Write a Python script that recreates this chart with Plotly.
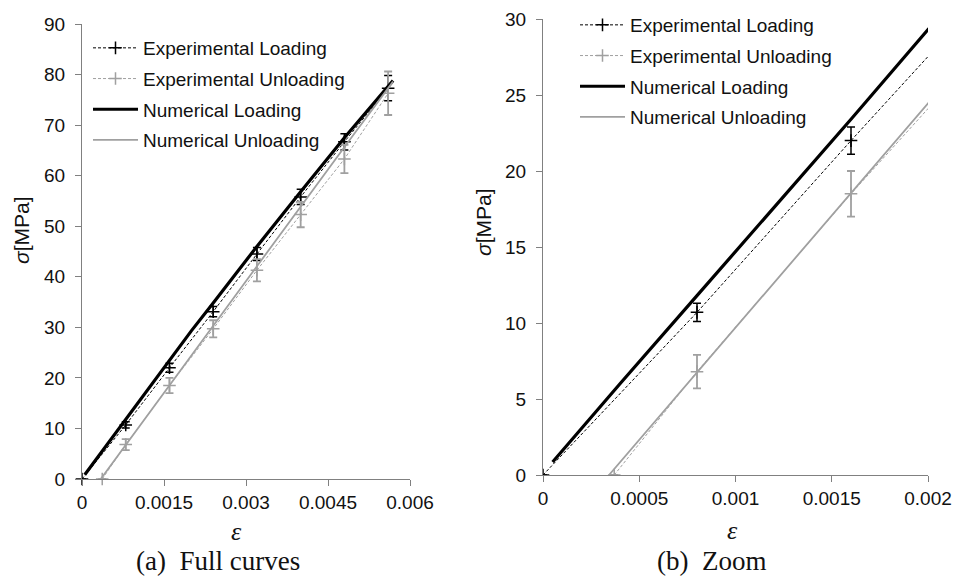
import plotly.graph_objects as go

# ---------------- data ----------------
exp_strain = [0.0, 0.0008, 0.0016, 0.0024, 0.0032, 0.0040, 0.0048, 0.0056]
exp_load = [0.0, 10.7, 22.0, 33.1, 44.5, 55.8, 66.7, 77.3]
exp_load_err = [0.0, 0.6, 0.9, 1.0, 1.3, 1.5, 1.6, 2.5]

exp_unl_strain = [0.00037, 0.0008, 0.0016, 0.0024, 0.0032, 0.0040, 0.0048, 0.0056]
exp_unl = [0.0, 6.8, 18.5, 29.7, 41.3, 52.3, 63.3, 76.3]
exp_unl_err = [0.0, 1.1, 1.5, 1.7, 2.2, 2.5, 2.8, 4.3]

num_load_strain = [0.00005, 0.0004, 0.0008, 0.0012, 0.0016, 0.0020, 0.0024, 0.0032, 0.0040, 0.0048, 0.00569]
num_load = [0.85, 6.0, 11.8, 17.6, 23.4, 29.3, 34.8, 46.0, 56.8, 67.5, 78.8]

num_unl_strain = [0.000343, 0.0010, 0.0020, 0.0030, 0.0040, 0.0050, 0.00569]
num_unl = [0.0, 9.7, 24.5, 39.2, 53.9, 68.6, 78.6]

xticks_a = [0, 0.0015, 0.003, 0.0045, 0.006]
xticks_a_txt = ["0", "0.0015", "0.003", "0.0045", "0.006"]
yticks_a = [0, 10, 20, 30, 40, 50, 60, 70, 80, 90]
xticks_b = [0, 0.0005, 0.001, 0.0015, 0.002]
xticks_b_txt = ["0", "0.0005", "0.001", "0.0015", "0.002"]
yticks_b = [0, 5, 10, 15, 20, 25, 30]

names = ["Experimental Loading", "Experimental Unloading", "Numerical Loading", "Numerical Unloading"]

BLACK = "#000000"
GREY = "#a0a0a0"
SANS = "Arial, Liberation Sans, sans-serif"
SERIF = "Liberation Serif, Times New Roman, serif"

fig = go.Figure()

def add_set(xa, ya, leg, clip, grp):
    fig.add_trace(go.Scatter(
        x=exp_strain, y=exp_load, mode="lines+markers", name=names[0],
        line=dict(color=BLACK, width=1, dash="3px,2px"),
        marker=dict(symbol="cross-thin", size=9, line=dict(color=BLACK, width=1.5)),
        error_y=dict(type="data", array=exp_load_err, color=BLACK, thickness=1.5, width=4),
        xaxis=xa, yaxis=ya, legend=leg, legendgroup=grp + "1", cliponaxis=clip))
    fig.add_trace(go.Scatter(
        x=exp_unl_strain, y=exp_unl, mode="lines+markers", name=names[1],
        line=dict(color=GREY, width=1, dash="3px,2px"),
        marker=dict(symbol="cross-thin", size=9, line=dict(color=GREY, width=1.5)),
        error_y=dict(type="data", array=exp_unl_err, color=GREY, thickness=1.8, width=4),
        xaxis=xa, yaxis=ya, legend=leg, legendgroup=grp + "2", cliponaxis=clip))
    fig.add_trace(go.Scatter(
        x=num_load_strain, y=num_load, mode="lines", name=names[2],
        line=dict(color=BLACK, width=3.2),
        xaxis=xa, yaxis=ya, legend=leg, legendgroup=grp + "3"))
    fig.add_trace(go.Scatter(
        x=num_unl_strain, y=num_unl, mode="lines", name=names[3],
        line=dict(color=GREY, width=1.8),
        xaxis=xa, yaxis=ya, legend=leg, legendgroup=grp + "4"))

add_set("x", "y", "legend", False, "a")
add_set("x2", "y2", "legend2", True, "b")

axis_common = dict(
    showline=True, linecolor="#808080", linewidth=1.2, ticks="outside", ticklen=6,
    tickcolor="#808080", tickwidth=1.2, showgrid=False, zeroline=False, automargin=False,
    tickfont=dict(family=SANS, size=19, color="#111111"), fixedrange=True,
)

W, H = 956, 585
fig.update_layout(
    width=W, height=H, margin=dict(l=0, r=0, t=0, b=0, autoexpand=False),
    paper_bgcolor="white", plot_bgcolor="white",
    xaxis=dict(domain=[82 / W, 410 / W], range=[0, 0.006], tickvals=xticks_a, ticktext=xticks_a_txt,
               anchor="y", **axis_common),
    yaxis=dict(domain=[(H - 479) / H, (H - 24) / H], range=[0, 90], tickvals=yticks_a,
               anchor="x", ticklabelstandoff=6, **axis_common),
    xaxis2=dict(domain=[543 / W, 928 / W], range=[0, 0.002], tickvals=xticks_b, ticktext=xticks_b_txt,
                anchor="y2", **axis_common),
    yaxis2=dict(domain=[(H - 475) / H, (H - 19) / H], range=[0, 30], tickvals=yticks_b,
                anchor="x2", ticklabelstandoff=6, **axis_common),
    legend=dict(x=88 / W, y=1 - 29 / H, xanchor="left", yanchor="top", bgcolor="rgba(0,0,0,0)",
                font=dict(family=SANS, size=19, color="#111111"), itemwidth=45,
                traceorder="grouped", tracegroupgap=3, itemclick=False, itemdoubleclick=False),
    legend2=dict(x=575 / W, y=1 - 6 / H, xanchor="left", yanchor="top", bgcolor="rgba(0,0,0,0)",
                 font=dict(family=SANS, size=19, color="#111111"), itemwidth=45,
                 traceorder="grouped", tracegroupgap=3, itemclick=False, itemdoubleclick=False),
    showlegend=True,
)

annots = [
    dict(x=22 / W, y=1 - 230 / H, text="<i>σ</i>[MPa]", textangle=-90, font=dict(family=SANS, size=21)),
    dict(x=483 / W, y=1 - 222 / H, text="<i>σ</i>[MPa]", textangle=-90, font=dict(family=SANS, size=21)),
    dict(x=236 / W, y=1 - 531 / H, text="<i>ε</i>", font=dict(family=SERIF, size=26)),
    dict(x=732 / W, y=1 - 530 / H, text="<i>ε</i>", font=dict(family=SERIF, size=26)),
    dict(x=218 / W, y=1 - 561 / H, text="(a)\u00a0 Full curves", font=dict(family=SERIF, size=27)),
    dict(x=711 / W, y=1 - 561 / H, text="(b)\u00a0 Zoom", font=dict(family=SERIF, size=27)),
]
for a in annots:
    fig.add_annotation(xref="paper", yref="paper", showarrow=False, xanchor="center", yanchor="middle",
                       font_color="#111111", **a)

fig.write_html("out.html")
